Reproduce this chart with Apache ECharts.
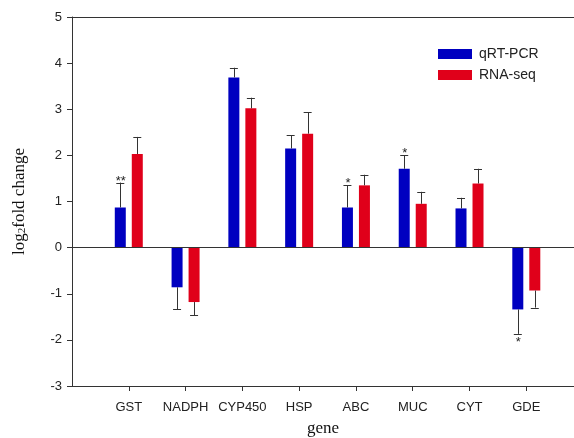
<!DOCTYPE html>
<html>
<head>
<meta charset="utf-8">
<script src="https://cdn.jsdelivr.net/npm/echarts@6/dist/echarts.min.js"></script>
<style>html,body{margin:0;padding:0;background:#fff;}#c{width:574px;height:438px;}</style>
</head>
<body>
<div id="c"></div>
<script>
var categories = ['GST', 'NADPH', 'CYP450', 'HSP', 'ABC', 'MUC', 'CYT', 'GDE'];
var qpcr = [0.87, -0.86, 3.69, 2.15, 0.87, 1.71, 0.85, -1.34];
var qpcrErr = [0.54, 0.48, 0.21, 0.29, 0.48, 0.29, 0.23, 0.53];
var rnaseq = [2.03, -1.18, 3.02, 2.47, 1.35, 0.95, 1.39, -0.93];
var rnaseqErr = [0.37, 0.29, 0.23, 0.46, 0.23, 0.26, 0.32, 0.37];
var qpcrSig = ['**', '', '', '', '*', '*', '', '*'];
var rnaseqSig = ['', '', '', '', '', '', '', ''];
var yTicks = [-3, -2, -1, 0, 1, 2, 3, 4, 5];
var xPositions = categories.map(function (c, i) { return i + 1; });

var chart = echarts.init(document.getElementById('c'), null, {renderer: 'canvas'});
var AX = '#333';

function makeRender(offset, color, errs, sigs) {
  return function (params, api) {
    var i = params.dataIndex;
    var x = api.value(0), v = api.value(1);
    var e = errs[i];
    var end = v >= 0 ? v + e : v - e;
    var p0 = api.coord([x, 0]);
    var p1 = api.coord([x, v]);
    var p2 = api.coord([x, end]);
    var w = 11;
    var cx = p0[0] + offset;
    var children = [
      {type: 'rect', shape: {x: cx - w / 2, y: Math.min(p0[1], p1[1]), width: w, height: Math.abs(p1[1] - p0[1])}, style: {fill: color}},
      {type: 'line', shape: {x1: Math.round(cx) + 0.5, y1: p1[1], x2: Math.round(cx) + 0.5, y2: p2[1]}, style: {stroke: AX, lineWidth: 1}},
      {type: 'line', shape: {x1: cx - 4, y1: Math.round(p2[1]) + 0.5, x2: cx + 4, y2: Math.round(p2[1]) + 0.5}, style: {stroke: AX, lineWidth: 1}}
    ];
    if (sigs[i]) {
      children.push({type: 'text', style: {
        text: sigs[i], x: cx + 0.5, y: v >= 0 ? p2[1] + 5 : p2[1] + 2,
        align: 'center', verticalAlign: v >= 0 ? 'bottom' : 'top',
        font: '13px "Liberation Sans", Arial, sans-serif', fill: '#222'
      }});
    }
    return {type: 'group', children: children};
  };
}

var option = {
  backgroundColor: '#fff',
  animation: false,
  grid: {left: 72, right: 0, top: 17, bottom: 52, containLabel: false, outerBoundsMode: 'none'},
  legend: {
    orient: 'vertical', left: 438, top: 47, padding: 0,
    itemWidth: 34, itemHeight: 10, itemGap: 7,
    data: [{name: 'qRT-PCR', icon: 'rect'}, {name: 'RNA-seq', icon: 'rect'}],
    textStyle: {fontFamily: '"Liberation Sans", Arial, sans-serif', fontSize: 14, color: '#222', padding: [0, 0, 0, 2]}
  },
  xAxis: [{
    type: 'value', min: 0, max: 8.84, interval: 1,
    name: 'gene', nameLocation: 'middle', nameGap: 34,
    nameTextStyle: {fontFamily: '"Liberation Serif", "Times New Roman", serif', fontSize: 17, color: '#111'},
    axisLine: {show: true, onZero: false, lineStyle: {color: AX, width: 1}},
    axisTick: {show: true, length: 5, lineStyle: {color: AX}, customValues: xPositions},
    axisLabel: {customValues: xPositions, margin: 15, color: '#222', fontFamily: '"Liberation Sans", Arial, sans-serif', fontSize: 13,
      formatter: function (v) { return categories[Math.round(v) - 1] || ''; }},
    splitLine: {show: false}
  }, {
    type: 'value', position: 'top', min: 0, max: 8.84,
    axisLine: {show: true, onZero: false, lineStyle: {color: AX, width: 1}},
    axisTick: {show: false}, axisLabel: {show: false}, splitLine: {show: false}
  }],
  yAxis: {
    type: 'value', min: yTicks[0], max: yTicks[yTicks.length - 1], interval: 1,
    name: '{t|log}{s|2}{t|fold change}', nameLocation: 'middle', nameGap: 44,
    nameTextStyle: {
      rich: {
        t: {fontFamily: '"Liberation Serif", "Times New Roman", serif', fontSize: 17, color: '#111', lineHeight: 17},
        s: {fontFamily: '"Liberation Serif", "Times New Roman", serif', fontSize: 11, color: '#111', verticalAlign: 'bottom', lineHeight: 6}
      }
    },
    axisLine: {show: true, onZero: false, lineStyle: {color: AX, width: 1}},
    axisTick: {show: true, length: 5, inside: false, lineStyle: {color: AX}},
    axisLabel: {margin: 10, color: '#222', fontFamily: '"Liberation Sans", Arial, sans-serif', fontSize: 13},
    splitLine: {show: false}
  },
  series: [{
    name: 'qRT-PCR', type: 'custom', itemStyle: {color: '#0000C0'},
    data: xPositions.map(function (x, i) { return [x, qpcr[i]]; }),
    renderItem: makeRender(-8.5, '#0000C0', qpcrErr, qpcrSig),
    encode: {x: 0, y: 1},
    markLine: {silent: true, symbol: ['none', 'none'], label: {show: false},
      lineStyle: {color: AX, type: 'solid', width: 1}, data: [{yAxis: 0}]}
  }, {
    name: 'RNA-seq', type: 'custom', itemStyle: {color: '#E0001A'},
    data: xPositions.map(function (x, i) { return [x, rnaseq[i]]; }),
    renderItem: makeRender(8.5, '#E0001A', rnaseqErr, rnaseqSig),
    encode: {x: 0, y: 1}
  }]
};
chart.setOption(option);
</script>
</body>
</html>
